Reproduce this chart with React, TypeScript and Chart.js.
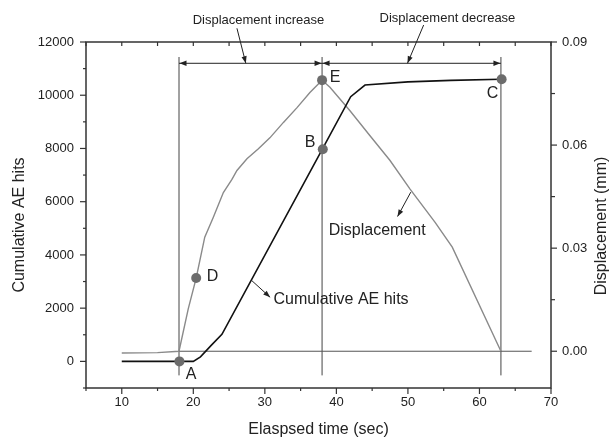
import React, { useEffect, useRef } from 'react';
import { Chart, registerables } from 'chart.js';

Chart.register(...registerables);

const FONT = "'Liberation Sans', Arial, Helvetica, sans-serif";

// Cumulative AE hits (left axis)
const aeTime = [10, 18, 20, 21, 22.5, 24, 38, 42, 44, 50, 56, 63];
const aeHits = [0, 0, 0, 170, 600, 1018, 7960, 9945, 10384, 10500, 10560, 10600];

// Displacement (right axis, mm)
const dispTime = [10, 15, 18, 19.3, 20.4, 21.6, 22.8, 24.2, 25.4, 26.1, 27.5, 29.1, 30.7, 32.6, 34.5, 36.3, 38, 39.1, 41.9, 44.7, 47.5, 50.3, 53.8, 56.2, 63];
const dispMm = [-0.0005, -0.0004, 0, 0.0124, 0.0213, 0.0332, 0.039, 0.0462, 0.05, 0.0526, 0.056, 0.0589, 0.0621, 0.0666, 0.0709, 0.0753, 0.0789, 0.0768, 0.07, 0.0627, 0.0555, 0.0472, 0.0375, 0.0303, 0];

// zero reference line (right axis)
const zeroLineTime = [18, 67.3];
const zeroLineMm = [0, 0];

// marked points
const aeMarkTime = [18.06, 38.1, 63.1];
const aeMarkHits = [0, 7969, 10600];
const aeMarkLabels = ['A', 'B', 'C'];
const aeLabelTime = [19.69, 36.34, 61.83];
const aeLabelHits = [-507, 8217, 10073];

const dispMarkTime = [20.4, 38];
const dispMarkMm = [0.0213, 0.0789];
const dispMarkLabels = ['D', 'E'];
const dispLabelTime = [22.67, 39.83];
const dispLabelMm = [0.0218, 0.0797];

// stage boundaries (left axis units)
const stageTime = [18, 38, 63];
const stageLow = -526;
const stageHigh = 11436;
const stageArrowHits = 11200;

const stageTexts = ['Displacement increase', 'Displacement decrease'];
const stageTextTime = [29.1, 55.52];
const stageTextHits = [12808, 12890];
const stagePointerFromTime = [26.1, 52.2];
const stagePointerFromHits = [12515, 12639];
const stagePointerToTime = [27.34, 49.94];

// curve callouts
const aeCalloutText = 'Cumulative AE hits';
const aeCalloutFrom = [28.08, 3058];
const aeCalloutTo = [30.74, 2408];
const aeCalloutTextAt = [31.2, 2306];

const dispCalloutText = 'Displacement';
const dispCalloutFrom = [50.4, 0.0463];
const dispCalloutTo = [48.55, 0.0392];
const dispCalloutTextAt = [45.7, 0.0352];

// axes
const xTicks = [5, 10, 15, 20, 25, 30, 35, 40, 45, 50, 55, 60, 65, 70];
const xLabelled = [10, 20, 30, 40, 50, 60, 70];
const yTicks = [-1000, 0, 1000, 2000, 3000, 4000, 5000, 6000, 7000, 8000, 9000, 10000, 11000, 12000];
const yLabelled = [0, 2000, 4000, 6000, 8000, 10000, 12000];
const y2Ticks = [0, 0.015, 0.03, 0.045, 0.06, 0.075, 0.09];
const y2Labelled = [0, 0.03, 0.06, 0.09];

const xTitle = 'Elaspsed time (sec)';
const yTitle = 'Cumulative AE hits';
const y2Title = 'Displacement (mm)';

const near = (arr: number[], v: number) => arr.some((a) => Math.abs(a - v) < 1e-9);

function arrowHead(ctx: CanvasRenderingContext2D, x1: number, y1: number, x2: number, y2: number, len: number, half: number) {
  const ang = Math.atan2(y2 - y1, x2 - x1);
  const c = Math.cos(ang), s = Math.sin(ang);
  ctx.beginPath();
  ctx.moveTo(x2, y2);
  ctx.lineTo(x2 - len * c + half * s, y2 - len * s - half * c);
  ctx.lineTo(x2 - len * c - half * s, y2 - len * s + half * c);
  ctx.closePath();
  ctx.fill();
}

const overlay = {
  id: 'overlay',
  afterDraw(chart: any) {
    const { ctx, chartArea: a, scales } = chart;
    const x = scales.x, y = scales.y, y2 = scales.y2;
    const line = (x1: number, y1: number, x2: number, y2_: number) => {
      ctx.beginPath();
      ctx.moveTo(x1, y1);
      ctx.lineTo(x2, y2_);
      ctx.stroke();
    };
    ctx.save();
    // frame
    ctx.strokeStyle = '#333';
    ctx.lineWidth = 1.5;
    ctx.strokeRect(a.left, a.top, a.right - a.left, a.bottom - a.top);
    ctx.lineWidth = 1.2;
    for (const t of x.ticks) {
      const px = x.getPixelForValue(t.value);
      const major = near(xLabelled, t.value);
      line(px, a.bottom, px, a.bottom + (major ? 6 : 3));
      line(px, a.top, px, a.top + 4);
    }
    for (const t of y.ticks) {
      const py = y.getPixelForValue(t.value);
      const major = near(yLabelled, t.value);
      line(a.left, py, a.left - (major ? 6 : 3), py);
    }
    for (const t of y2.ticks) {
      const py = y2.getPixelForValue(t.value);
      const major = near(y2Labelled, t.value);
      line(a.right, py, a.right + (major ? 6 : 4), py);
    }

    // stage arrows
    ctx.fillStyle = '#222';
    const ay = y.getPixelForValue(stageArrowHits);
    for (let i = 0; i < stageTime.length - 1; i++) {
      const xa = x.getPixelForValue(stageTime[i]);
      const xb = x.getPixelForValue(stageTime[i + 1]);
      arrowHead(ctx, xb, ay, xa + 0.5, ay, 7, 2.8);
      arrowHead(ctx, xa, ay, xb - 0.5, ay, 7, 2.8);
    }
    // stage pointers
    ctx.strokeStyle = '#222';
    ctx.lineWidth = 1;
    for (let i = 0; i < stageTexts.length; i++) {
      const fx = x.getPixelForValue(stagePointerFromTime[i]);
      const fy = y.getPixelForValue(stagePointerFromHits[i]);
      const tx = x.getPixelForValue(stagePointerToTime[i]);
      line(fx, fy, tx, ay);
      arrowHead(ctx, fx, fy, tx, ay, 7, 2.6);
    }
    // curve callouts
    {
      const fx = x.getPixelForValue(aeCalloutFrom[0]);
      const fy = y.getPixelForValue(aeCalloutFrom[1]);
      const tx = x.getPixelForValue(aeCalloutTo[0]);
      const ty = y.getPixelForValue(aeCalloutTo[1]);
      line(fx, fy, tx, ty);
      arrowHead(ctx, fx, fy, tx, ty, 7, 2.6);
    }
    {
      const fx = x.getPixelForValue(dispCalloutFrom[0]);
      const fy = y2.getPixelForValue(dispCalloutFrom[1]);
      const tx = x.getPixelForValue(dispCalloutTo[0]);
      const ty = y2.getPixelForValue(dispCalloutTo[1]);
      line(fx, fy, tx, ty);
      arrowHead(ctx, fx, fy, tx, ty, 7, 2.6);
    }

    // texts
    ctx.fillStyle = '#222';
    ctx.textBaseline = 'middle';
    ctx.textAlign = 'center';
    ctx.font = `13px ${FONT}`;
    for (let i = 0; i < stageTexts.length; i++) {
      ctx.fillText(stageTexts[i], x.getPixelForValue(stageTextTime[i]), y.getPixelForValue(stageTextHits[i]));
    }
    ctx.font = `16px ${FONT}`;
    for (let i = 0; i < aeMarkLabels.length; i++) {
      ctx.fillText(aeMarkLabels[i], x.getPixelForValue(aeLabelTime[i]), y.getPixelForValue(aeLabelHits[i]));
    }
    for (let i = 0; i < dispMarkLabels.length; i++) {
      ctx.fillText(dispMarkLabels[i], x.getPixelForValue(dispLabelTime[i]), y2.getPixelForValue(dispLabelMm[i]));
    }
    ctx.fillText(dispCalloutText, x.getPixelForValue(dispCalloutTextAt[0]), y2.getPixelForValue(dispCalloutTextAt[1]));
    ctx.textAlign = 'left';
    ctx.fillText(aeCalloutText, x.getPixelForValue(aeCalloutTextAt[0]), y.getPixelForValue(aeCalloutTextAt[1]));

    // axis titles
    ctx.textAlign = 'center';
    ctx.fillText(xTitle, (a.left + a.right) / 2, 430);
    ctx.save();
    ctx.translate(19.5, 225);
    ctx.rotate(-Math.PI / 2);
    ctx.fillText(yTitle, 0, 0);
    ctx.restore();
    ctx.save();
    ctx.translate(602, 226);
    ctx.rotate(-Math.PI / 2);
    ctx.fillText(y2Title, 0, 0);
    ctx.restore();
    ctx.restore();
  },
};

export default function App() {
  const ref = useRef<HTMLCanvasElement>(null);
  useEffect(() => {
    if (!ref.current) return;
    const pts = (xs: number[], ys: number[]) => xs.map((v, i) => ({ x: v, y: ys[i] }));
    const tickFont = { family: FONT, size: 13 };
    const chart = new Chart(ref.current, {
      type: 'line',
      data: {
        datasets: [
          {
            label: 'ae-marks',
            data: pts(aeMarkTime, aeMarkHits),
            yAxisID: 'y',
            showLine: false,
            pointRadius: 5,
            pointBackgroundColor: '#6c6c6c',
            pointBorderWidth: 0,
          },
          {
            label: 'disp-marks',
            data: pts(dispMarkTime, dispMarkMm),
            yAxisID: 'y2',
            showLine: false,
            pointRadius: 5,
            pointBackgroundColor: '#6c6c6c',
            pointBorderWidth: 0,
          },
          {
            label: 'Cumulative AE hits',
            data: pts(aeTime, aeHits),
            yAxisID: 'y',
            borderColor: '#111',
            borderWidth: 1.6,
            pointRadius: 0,
            tension: 0,
          },
          {
            label: 'Displacement',
            data: pts(dispTime, dispMm),
            yAxisID: 'y2',
            borderColor: '#8a8a8a',
            borderWidth: 1.4,
            pointRadius: 0,
            tension: 0,
          },
          {
            label: 'zero',
            data: pts(zeroLineTime, zeroLineMm),
            yAxisID: 'y2',
            borderColor: '#555',
            borderWidth: 1,
            pointRadius: 0,
          },
          {
            label: 'arrow-line',
            data: pts([stageTime[0], stageTime[stageTime.length - 1]], [stageArrowHits, stageArrowHits]),
            yAxisID: 'y',
            borderColor: '#222',
            borderWidth: 1,
            pointRadius: 0,
          },
          ...stageTime.map((t) => ({
            label: 'stage-' + t,
            data: pts([t, t], [stageLow, stageHigh]),
            yAxisID: 'y',
            borderColor: '#444',
            borderWidth: 1,
            pointRadius: 0,
          })),
        ],
      },
      options: {
        responsive: false,
        animation: false,
        events: [],
        layout: { padding: { top: 42, left: 0, right: 0, bottom: 0 } },
        plugins: { legend: { display: false }, tooltip: { enabled: false }, title: { display: false } },
        scales: {
          x: {
            type: 'linear',
            min: 5,
            max: 70,
            grid: { display: false, drawTicks: false },
            border: { display: false },
            afterBuildTicks: (s: any) => {
              s.ticks = xTicks.map((v) => ({ value: v }));
            },
            afterFit: (s: any) => {
              s.height = 51;
            },
            ticks: {
              autoSkip: false,
              maxRotation: 0,
              padding: 7,
              color: '#222',
              font: tickFont,
              callback: (v: any) => (near(xLabelled, Number(v)) ? String(v) : ''),
            },
          },
          y: {
            type: 'linear',
            position: 'left',
            min: -1000,
            max: 12000,
            grid: { display: false, drawTicks: false },
            border: { display: false },
            afterBuildTicks: (s: any) => {
              s.ticks = yTicks.map((v) => ({ value: v }));
            },
            afterFit: (s: any) => {
              s.width = 86;
            },
            ticks: {
              autoSkip: false,
              padding: 12,
              color: '#222',
              font: tickFont,
              callback: (v: any) => (near(yLabelled, Number(v)) ? String(v) : ''),
            },
          },
          y2: {
            type: 'linear',
            position: 'right',
            min: -0.0107,
            max: 0.09,
            grid: { display: false, drawTicks: false },
            border: { display: false },
            afterBuildTicks: (s: any) => {
              s.ticks = y2Ticks.map((v) => ({ value: v }));
            },
            afterFit: (s: any) => {
              s.width = 59;
            },
            ticks: {
              autoSkip: false,
              padding: 11,
              color: '#222',
              font: tickFont,
              callback: (v: any) => (near(y2Labelled, Number(v)) ? Number(v).toFixed(2) : ''),
            },
          },
        },
      },
      plugins: [overlay],
    } as any);
    return () => chart.destroy();
  }, []);
  return (
    <div style={{ position: 'absolute', left: 0, top: 0, width: 610, height: 439, background: '#fff' }}>
      <canvas ref={ref} width={610} height={439} style={{ display: 'block' }} />
    </div>
  );
}
